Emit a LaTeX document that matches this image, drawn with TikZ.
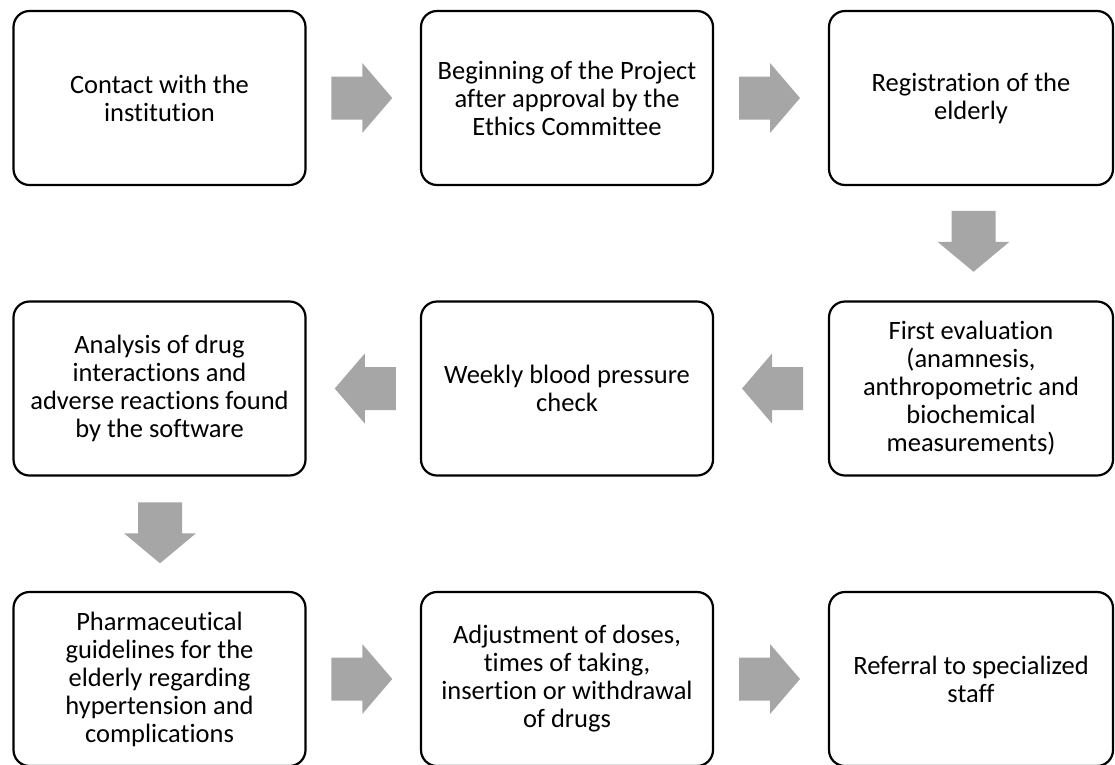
\documentclass[tikz,border=0pt]{standalone}
\usepackage{fontspec}
\setmainfont{Carlito}[Ligatures={NoCommon,NoDiscretionary,NoContextual}]
\usetikzlibrary{calc}
\definecolor{arrowgray}{RGB}{166,166,166}
\tikzset{
  stepbox/.style={draw=black, line width=2.2pt, rounded corners=16pt,
    minimum width=292pt, minimum height=174pt, align=center,
    font=\fontsize{26.5}{28}\selectfont, inner sep=0pt},
  pics/rarrow/.style={code={\fill[arrowgray] (-30.5,-21.5) -- (0.5,-21.5) -- (0.5,-35) -- (30.5,0) -- (0.5,35) -- (0.5,21.5) -- (-30.5,21.5) -- cycle;}},
  pics/larrow/.style={code={\fill[arrowgray] (30.5,-21.5) -- (-0.5,-21.5) -- (-0.5,-35) -- (-30.5,0) -- (-0.5,35) -- (-0.5,21.5) -- (30.5,21.5) -- cycle;}},
  pics/darrow/.style={code={\fill[arrowgray] (-22,-30.5) -- (22,-30.5) -- (22,0.5) -- (36,0.5) -- (0,30.5) -- (-36,0.5) -- (-22,0.5) -- cycle;}},
}
\begin{document}
\begin{tikzpicture}[x=1pt,y=-1pt]
\useasboundingbox (0,0) rectangle (1115,764);
% row 1
\node[stepbox] (a1) at (159.5,98) {Contact with the\\institution};
\node[stepbox] (a2) at (567,98) {Beginning of the Project\\after approval by the\\Ethics Committee};
\node[stepbox, minimum width=284pt] (a3) at (971,98) {Registration of the\\elderly};
% row 2
\node[stepbox] (b1) at (159.5,388.5) {Analysis of drug\\interactions and\\adverse reactions found\\by the software};
\node[stepbox] (b2) at (567,388.5) {Weekly blood pressure\\check};
\node[stepbox, minimum width=284pt] (b3) at (971,388.5) {First evaluation\\(anamnesis,\\anthropometric and\\biochemical\\measurements)};
% row 3
\node[stepbox] (c1) at (159.5,679) {Pharmaceutical\\guidelines for the\\elderly regarding\\hypertension and\\complications};
\node[stepbox] (c2) at (567,679) {Adjustment of doses,\\times of taking,\\insertion or withdrawal\\of drugs};
\node[stepbox, minimum width=284pt] (c3) at (971,679) {Referral to specialized\\staff};
% arrows
\pic at ($(a1.east)!0.5!(a2.west)+(-1.5,0)$) {rarrow};
\pic at ($(a2.east)!0.5!(a3.west)+(-1.5,0)$) {rarrow};
\pic at ($(a3.south)!0.5!(b3.north)+(2.5,-2)$) {darrow};
\pic at ($(b3.west)!0.5!(b2.east)+(1.5,0)$) {larrow};
\pic at ($(b2.west)!0.5!(b1.east)+(2,0)$) {larrow};
\pic at ($(b1.south)!0.5!(c1.north)+(0.5,-1)$) {darrow};
\pic at ($(c1.east)!0.5!(c2.west)+(-1.5,0)$) {rarrow};
\pic at ($(c2.east)!0.5!(c3.west)+(-1.5,0)$) {rarrow};
\end{tikzpicture}
\end{document}
